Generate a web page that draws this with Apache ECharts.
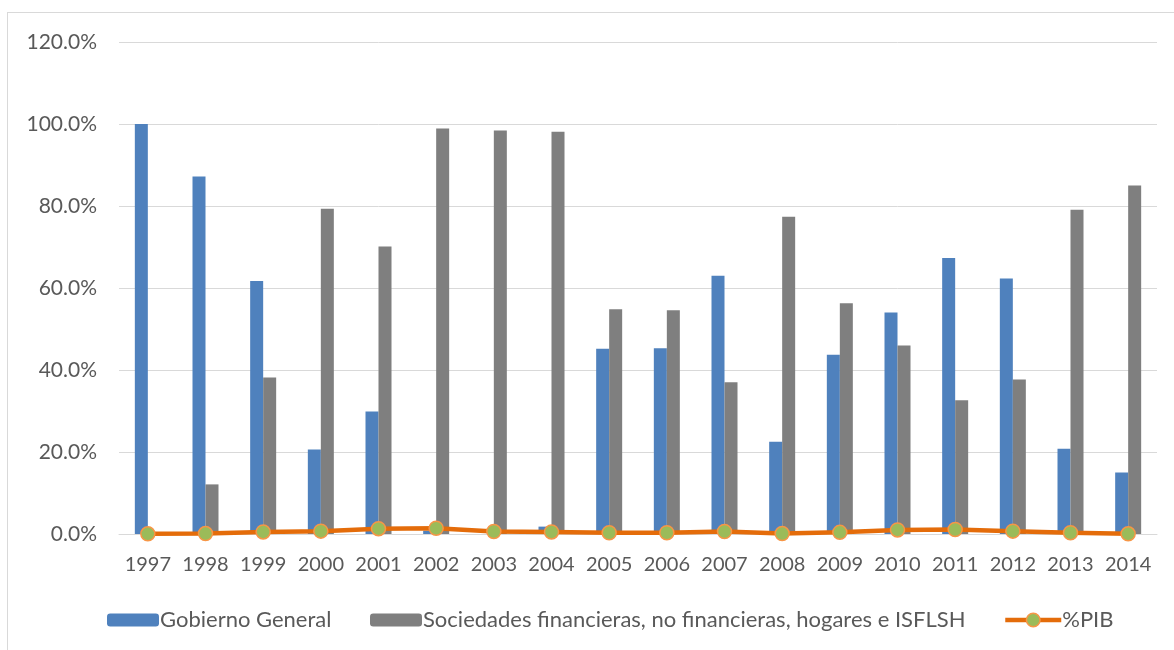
<!DOCTYPE html>
<html>
<head>
<meta charset="utf-8">
<script src="https://cdn.jsdelivr.net/npm/echarts@6/dist/echarts.min.js"></script>
<style>
  html, body { margin: 0; padding: 0; background: #fff; overflow: hidden; }
  #chart { position: absolute; left: 0; top: 0; width: 1174px; height: 650px; }
  .frame { position: absolute; left: 7px; top: 12px; width: 1300px; height: 800px;
           border: 1px solid #d9d9d9; pointer-events: none; }
</style>
</head>
<body>
<div id="chart"></div>
<div class="frame"></div>
<script>
const years = ['1997', '1998', '1999', '2000', '2001', '2002', '2003', '2004', '2005',
  '2006', '2007', '2008', '2009', '2010', '2011', '2012', '2013', '2014']
// % del total
const gobierno = [100, 87.2, 61.7, 20.6, 29.9, 0.8, 0, 1.8, 45.2,
  45.3, 63, 22.5, 43.7, 54, 67.3, 62.3, 20.8, 15]
const sociedades = [0, 12.1, 38.2, 79.3, 70.1, 98.9, 98.4, 98.1, 54.8,
  54.6, 37, 77.4, 56.3, 46, 32.6, 37.7, 79.1, 85]
const pib = [0.05, 0.1, 0.5, 0.7, 1.3, 1.4, 0.6, 0.5, 0.3,
  0.3, 0.6, 0.1, 0.4, 1.0, 1.1, 0.7, 0.3, 0.05]
const yTicks = [0, 20, 40, 60, 80, 100, 120]

const FONT = 'Lato'
const TXT = '#595959'

const chart = echarts.init(document.getElementById('chart'), null, { renderer: 'canvas' })

const legendBase = {
  top: 604,
  itemWidth: 52,
  itemHeight: 13,
  itemGap: 10,
  textStyle: { color: TXT, fontSize: 22, fontFamily: FONT, padding: [0, 0, 0, -4] },
  selectedMode: false,
}

chart.setOption({
  animation: false,
  backgroundColor: '#fff',
  textStyle: { fontFamily: FONT },
  grid: { left: 119, right: 17, top: 42, bottom: 116, outerBoundsMode: 'none' },
  legend: [
    { ...legendBase, left: 102, data: ['Gobierno General'] },
    { ...legendBase, left: 365, data: ['Sociedades financieras, no financieras, hogares e ISFLSH'] },
    {
      ...legendBase, left: 998, top: 604, itemWidth: 56, itemHeight: 17,
      data: [{
        name: '%PIB',
        lineStyle: { color: '#e46c0a', width: 4.5 },
        itemStyle: { color: '#9bbb59', borderColor: '#f79646', borderWidth: 1.5 },
      }],
    },
  ],
  xAxis: {
    type: 'category',
    data: years,
    axisLine: { lineStyle: { color: '#d9d9d9', width: 1 } },
    axisTick: { show: false },
    axisLabel: { color: TXT, fontSize: 20, fontFamily: FONT, margin: 21, interval: 0 },
  },
  yAxis: {
    type: 'value',
    min: yTicks[0],
    max: yTicks[yTicks.length - 1],
    interval: 20,
    axisLine: { show: false },
    axisTick: { show: false },
    axisLabel: {
      color: TXT, fontSize: 21, fontFamily: FONT, margin: 22,
      formatter: v => v.toFixed(1) + '%',
    },
    splitLine: { lineStyle: { color: '#d9d9d9', width: 1 } },
  },
  series: [
    {
      name: 'Gobierno General', type: 'bar', data: gobierno,
      barWidth: 13, barGap: '0%',
      itemStyle: { color: '#4f81bd' },
    },
    {
      name: 'Sociedades financieras, no financieras, hogares e ISFLSH', type: 'bar', data: sociedades,
      barWidth: 13, barGap: '0%',
      itemStyle: { color: '#7f7f7f' },
    },
    {
      name: '%PIB', type: 'line', data: pib,
      symbol: 'circle', symbolSize: 14, showSymbol: true,
      lineStyle: { color: '#e46c0a', width: 4.5 },
      itemStyle: { color: '#9bbb59', borderColor: '#f79646', borderWidth: 1.5 },
      z: 5,
    },
  ],
})
</script>
</body>
</html>
